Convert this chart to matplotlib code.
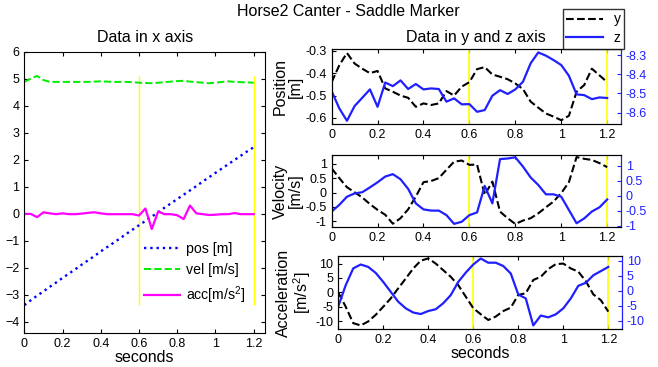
import matplotlib
matplotlib.use('Agg')
import matplotlib.pyplot as plt
from matplotlib.lines import Line2D
from matplotlib.ticker import FormatStrFormatter

plt.rcParams['font.family'] = ['Liberation Sans', 'DejaVu Sans']
plt.rcParams['mathtext.default'] = 'regular'

# frame times (30 frames per second, 0 .. 1.2 s)
t = [i / 30 for i in range(37)]

# x axis data
pos_x = [-3.38, -3.20, -3.03, -2.87, -2.70, -2.54, -2.37, -2.21, -2.05, -1.88,
         -1.72, -1.56, -1.39, -1.23, -1.07, -0.91, -0.74, -0.58, -0.42, -0.26,
         -0.10, 0.06, 0.23, 0.39, 0.55, 0.71, 0.87, 1.03, 1.20, 1.36,
         1.52, 1.68, 1.84, 2.00, 2.16, 2.32, 2.47]
vel_x = [4.89, 5.01, 5.11, 4.96, 4.89, 4.89, 4.89, 4.89, 4.89, 4.89,
         4.89, 4.90, 4.91, 4.90, 4.89, 4.89, 4.89, 4.88, 4.86, 4.85,
         4.84, 4.86, 4.88, 4.90, 4.92, 4.93, 4.90, 4.88, 4.86, 4.84,
         4.86, 4.89, 4.91, 4.89, 4.88, 4.87, 4.86]
acc_x = [0.00, 0.00, -0.12, 0.06, 0.02, -0.01, 0.02, -0.01, -0.01, 0.01,
         0.04, 0.06, 0.02, -0.01, -0.01, -0.01, -0.01, -0.01, -0.06, 0.20,
         -0.56, 0.09, -0.01, -0.01, -0.05, -0.19, 0.31, 0.02, -0.01, -0.04,
         -0.03, -0.01, -0.01, 0.03, -0.01, -0.01, -0.01]

# y axis data
pos_y = [-0.44, -0.365, -0.31, -0.357, -0.38, -0.40, -0.39, -0.468, -0.483, -0.50,
         -0.51, -0.55, -0.535, -0.542, -0.535, -0.48, -0.50, -0.46, -0.44, -0.382,
         -0.373, -0.406, -0.416, -0.427, -0.446, -0.471, -0.527, -0.554, -0.58, -0.594,
         -0.61, -0.59, -0.483, -0.453, -0.38, -0.41, -0.44]
vel_y = [0.84, 0.50, 0.185, 0.01, -0.17, -0.40, -0.60, -0.77, -1.08, -0.89,
         -0.58, -0.14, 0.36, 0.40, 0.50, 0.79, 1.07, 1.11, 0.96, 0.97,
         -0.08, 0.38, -0.66, -0.89, -1.09, -0.97, -0.89, -0.72, -0.51, -0.31,
         -0.02, 0.36, 1.23, 1.17, 1.13, 1.02, 0.88]
acc_y = [0.0, -5.0, -10.7, -11.5, -10.1, -7.8, -5.0, -2.1, 1.4, 4.8,
         8.3, 11.0, 11.8, 10.0, 7.7, 5.4, 2.5, -1.5, -5.5, -7.6,
         -9.6, -8.4, -6.5, -5.3, -0.9, -0.3, 4.3, 5.4, 8.1, 9.8,
         10.0, 8.3, 7.2, 3.9, -0.7, -2.7, -6.7]

# z axis data
pos_z = [-8.488, -8.578, -8.643, -8.566, -8.523, -8.479, -8.57, -8.443, -8.462, -8.432,
         -8.477, -8.451, -8.479, -8.474, -8.477, -8.543, -8.526, -8.557, -8.556, -8.596,
         -8.587, -8.512, -8.483, -8.503, -8.479, -8.439, -8.343, -8.286, -8.303, -8.326,
         -8.352, -8.408, -8.505, -8.509, -8.53, -8.521, -8.524]
vel_z = [-0.52, -0.30, -0.03, 0.08, 0.12, 0.28, 0.45, 0.64, 0.72, 0.55,
         0.23, -0.25, -0.45, -0.49, -0.49, -0.64, -0.93, -0.86, -0.64, -0.55,
         0.33, -0.25, 1.22, 1.24, 1.28, 0.97, 0.61, 0.36, 0.05, 0.05,
         -0.03, -0.47, -0.91, -0.75, -0.52, -0.38, -0.12]
acc_z = [-5.2, 1.9, 7.5, 8.8, 8.0, 6.0, 3.0, -0.3, -3.6, -5.8,
         -7.2, -7.7, -6.7, -6.1, -4.1, -1.4, 3.0, 6.1, 8.8, 10.8,
         9.4, 9.4, 8.3, 5.8, -1.2, -2.5, -11.5, -8.2, -8.8, -7.8,
         -5.8, -2.5, 1.7, 2.7, 5.2, 6.6, 8.0]

# stride markers (yellow lines)
marks = [0.6, 1.2]

YELLOW = '#ffff00'
ZBLUE = '#2020ff'
xticks = [0, 0.2, 0.4, 0.6, 0.8, 1.0, 1.2]
TICKSIZE = 9

fig = plt.figure(figsize=(6.58, 3.67), dpi=100)
fig.text(0.53, 0.968, 'Horse2 Canter - Saddle Marker', ha='center', va='center', fontsize=11.5)

#left panel: x axis data
ax = fig.add_axes([0.037, 0.0935, 0.366, 0.765])
ax.vlines(marks, min(pos_x), max(vel_x), color=YELLOW, lw=1)
ax.plot(t, pos_x, ':', color='b', lw=1.7, label='pos [m]')
ax.plot(t, vel_x, '--', color='#00ee00', lw=1.4, label='vel [m/s]')
ax.plot(t, acc_x, '-', color='#ff00ff', lw=1.6, label='acc[m/s$^2$]')
ax.set_xlim(0, 1.26)
ax.set_ylim(-4.4, 6)
ax.set_yticks(range(-4, 7))
ax.set_xticks(xticks)
ax.xaxis.set_major_formatter(FormatStrFormatter('%g'))
ax.tick_params(direction='in', top=True, right=True, length=3, labelsize=TICKSIZE)
ax.set_title('Data in x axis', fontsize=11.5, pad=7)
ax.set_xlabel('seconds', fontsize=11.5, labelpad=0)
ax.legend(loc='lower right', bbox_to_anchor=(0.97, 0.05), frameon=False, fontsize=10.2,
          handlelength=2.5, handletextpad=0.4, labelspacing=0.5)

#right panels: y and z axis data
panels = [
    ([0.504, 0.662, 0.4397, 0.204], pos_y, pos_z, 'Position\n[m]',
     (-0.627, -0.293), (-8.66, -8.269), [-0.6, -0.5, -0.4, -0.3], [-8.6, -8.5, -8.4, -8.3]),
    ([0.504, 0.381, 0.4397, 0.197], vel_y, vel_z, 'Velocity\n[m/s]',
     (-1.20, 1.306), (-1.04, 1.36), [-1, -0.5, 0, 0.5, 1], [-1, -0.5, 0, 0.5, 1]),
    ([0.514, 0.103, 0.431, 0.200], acc_y, acc_z, 'Acceleration\n[m/s$^2$]',
     (-12.8, 12.7), (-12.75, 11.7), [-10, -5, 0, 5, 10], [-10, -5, 0, 5, 10]),
]

for i, (rect, yv, zv, lab, ylim1, ylim2, ticks1, ticks2) in enumerate(panels):
    a1 = fig.add_axes(rect)
    for m in marks:
        a1.axvline(m, color=YELLOW, lw=1.2)
    a1.plot(t, yv, '--', color='k', lw=1.5)
    a1.set_xlim(0, 1.26)
    a1.set_ylim(*ylim1)
    a1.set_yticks(ticks1)
    a1.yaxis.set_major_formatter(FormatStrFormatter('%g'))
    a1.set_xticks(xticks)
    a1.xaxis.set_major_formatter(FormatStrFormatter('%g'))
    a1.tick_params(direction='in', top=True, right=False, length=3, labelsize=TICKSIZE)
    a1.set_ylabel(lab, fontsize=11.5, labelpad=2, linespacing=1.0)

    a2 = a1.twinx()
    a2.plot(t, zv, '-', color=ZBLUE, lw=1.6)
    a2.set_ylim(*ylim2)
    a2.set_yticks(ticks2)
    a2.yaxis.set_major_formatter(FormatStrFormatter('%g'))
    a2.tick_params(direction='in', length=3, labelsize=TICKSIZE, colors=ZBLUE)
    a2.spines['right'].set_color(ZBLUE)

    if i == 0:
        a1.set_title('Data in y and z axis', fontsize=11.5, pad=5)
    if i == 2:
        a1.set_xlabel('seconds', fontsize=11.5, labelpad=0)

#legend for the y/z panels
handles = [Line2D([], [], color='k', ls='--', lw=1.5),
           Line2D([], [], color=ZBLUE, ls='-', lw=1.6)]
leg = fig.legend(handles, ['y', 'z'], loc='upper left', bbox_to_anchor=(563 / 658, 1 - 9 / 367),
                 fontsize=10, handlelength=2.6, fancybox=False,
                 borderpad=0.25, labelspacing=0.35, handletextpad=0.8, borderaxespad=0)
leg.get_frame().set_edgecolor('k')
leg.get_frame().set_linewidth(1.0)

fig.savefig('out.png', dpi=100)
